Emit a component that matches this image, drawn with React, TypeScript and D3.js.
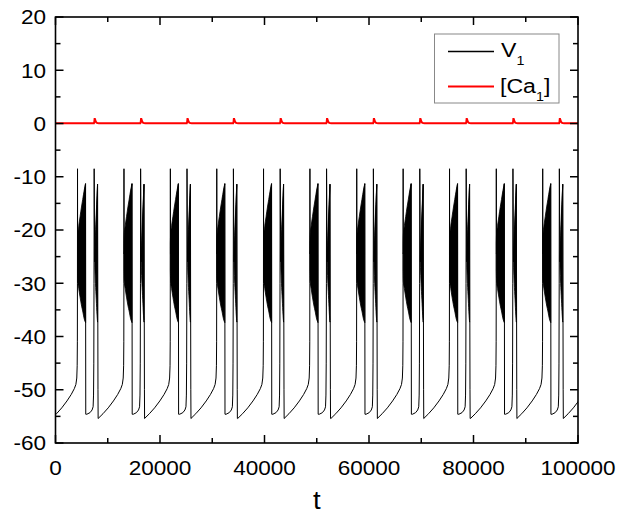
import React from "react";
import * as d3 from "d3";

// ---- data ----
const xTicks = [0, 20000, 40000, 60000, 80000, 100000];
const xMinorTicks = [10000, 30000, 50000, 70000, 90000];
const yTicks = [-60, -50, -40, -30, -20, -10, 0, 10, 20];
const yMinorTicks = [-55, -45, -35, -25, -15, -5, 5, 15];

// times (t) at which each burst starts (last one is beyond the visible range)
const burstOnsets = [4200, 13090, 21970, 30850, 39800, 48680, 57640, 66520, 75400, 84350, 93230, 102120];

// V1 trace of one cycle, [time offset from burst onset, V]
const voltageCycle: [number, number][] = [
  [-4930, -55.4], [-4000, -54.5], [-3000, -53.4], [-2000, -52.1], [-1200, -50.9],
  [-600, -49.8], [-300, -49.0], [-130, -47.8], [-50, -45.5], [-15, -41], [0, -30],
  [15, -8.5], [35, -24.5],
  [1540, -11.3], [1590, -54.6], [1800, -54.6], [2400, -54.3], [2800, -53.8],
  [3000, -53.2], [3080, -51], [3130, -45], [3170, -30], [3200, -8.5], [3300, -25.9],
  [3340, -26],
  [3850, -11.4], [3900, -37], [3930, -50], [3960, -55.4],
];

// dense oscillation envelopes: [time offset, upper V, lower V]
const burstEnvelope: [number, number, number][] = [
  [15, -22.5, -27.5], [60, -20.8, -29.6], [250, -19.2, -31], [500, -17.5, -32.6],
  [800, -15.5, -34.3], [1000, -14.3, -35.2], [1300, -12.5, -36.7], [1560, -11.3, -37.4],
];
const miniBurstEnvelope: [number, number, number][] = [
  [3330, -25, -27], [3450, -21, -30], [3600, -17, -33], [3750, -13.5, -36], [3850, -11.4, -37.3],
];

// [Ca1] trace: baseline and the pulse of one cycle
const calciumBase = 0.05;
const calciumPulse: [number, number][] = [
  [3150, 0.05], [3230, 0.3], [3300, 1.0], [3380, 0.75], [3500, 0.35],
  [3650, 0.15], [3850, 0.07], [4100, 0.05],
];

const W = 617;
const H = 514;
const L = 55.5, R = 578, T = 17, B = 443;
const SX = 1.1; // horizontal stretch of the lettering

export default function App() {
  const x = d3.scaleLinear().domain([0, 100000]).range([L, R]);
  const y = d3.scaleLinear().domain([-60, 20]).range([B, T]);

  const vPoints: [number, number][] = [];
  burstOnsets.forEach((o) => voltageCycle.forEach(([dt, v]) => vPoints.push([o + dt, v])));
  const line = d3.line<[number, number]>().x((d) => x(d[0])).y((d) => y(d[1]));

  const area = d3
    .area<[number, number, number]>()
    .x((d) => x(d[0]))
    .y0((d) => y(d[2]))
    .y1((d) => y(d[1]))
    .curve(d3.curveMonotoneX);

  const caPoints: [number, number][] = [[0, calciumBase]];
  burstOnsets.forEach((o) => calciumPulse.forEach(([dt, c]) => caPoints.push([o + dt, c])));
  const caFiltered = caPoints.filter((p) => p[0] <= 100000);
  caFiltered.push([100000, calciumBase]);

  const font = "'Liberation Sans', Arial, sans-serif";

  return (
    <svg width={W} height={H} style={{ position: "absolute", left: 0, top: 0, background: "#fff" }} fontFamily={font}>
      <defs>
        <clipPath id="plotClip">
          <rect x={L} y={T} width={R - L} height={B - T} />
        </clipPath>
      </defs>
      <rect x={0} y={0} width={W} height={H} fill="#fff" />
      <g clipPath="url(#plotClip)">
        <path d={line(vPoints) || ""} fill="none" stroke="#000" strokeWidth={1} />
        {burstOnsets.map((o, i) => (
          <g key={i}>
            <path
              d={area(burstEnvelope.map(([dt, u, l]) => [o + dt, u, l] as [number, number, number])) || ""}
              fill="#000"
              stroke="#000"
              strokeWidth={0.8}
            />
            <path
              d={area(miniBurstEnvelope.map(([dt, u, l]) => [o + dt, u, l] as [number, number, number])) || ""}
              fill="#000"
              stroke="#000"
              strokeWidth={0.8}
            />
          </g>
        ))}
        <path d={line(caFiltered) || ""} fill="none" stroke="#ff0000" strokeWidth={2} />
      </g>

      {/* frame */}
      <rect x={L} y={T} width={R - L} height={B - T} fill="none" stroke="#000" strokeWidth={1.6} />

      {/* ticks */}
      {xTicks.map((t) => (
        <g key={"xt" + t}>
          <line x1={x(t)} x2={x(t)} y1={B} y2={B - 8} stroke="#000" strokeWidth={1.5} />
          <line x1={x(t)} x2={x(t)} y1={T} y2={T + 8} stroke="#000" strokeWidth={1.5} />
          <text transform={`translate(${x(t)},475) scale(${SX},1)`} fontSize={20.5} textAnchor="middle" fill="#000">
            {t}
          </text>
        </g>
      ))}
      {xMinorTicks.map((t) => (
        <g key={"xm" + t}>
          <line x1={x(t)} x2={x(t)} y1={B} y2={B - 5} stroke="#000" strokeWidth={1.5} />
          <line x1={x(t)} x2={x(t)} y1={T} y2={T + 5} stroke="#000" strokeWidth={1.5} />
        </g>
      ))}
      {yTicks.map((t) => (
        <g key={"yt" + t}>
          <line x1={L} x2={L + 8} y1={y(t)} y2={y(t)} stroke="#000" strokeWidth={1.5} />
          <line x1={R} x2={R - 8} y1={y(t)} y2={y(t)} stroke="#000" strokeWidth={1.5} />
          <text transform={`translate(46,${y(t) + 7.3}) scale(${SX},1)`} fontSize={20.5} textAnchor="end" fill="#000">
            {t}
          </text>
        </g>
      ))}
      {yMinorTicks.map((t) => (
        <g key={"ym" + t}>
          <line x1={L} x2={L + 5} y1={y(t)} y2={y(t)} stroke="#000" strokeWidth={1.5} />
          <line x1={R} x2={R - 5} y1={y(t)} y2={y(t)} stroke="#000" strokeWidth={1.5} />
        </g>
      ))}

      {/* axis title */}
      <text transform={`translate(${(L + R) / 2},509) scale(${SX},1)`} fontSize={25} textAnchor="middle" fill="#000">
        t
      </text>

      {/* legend */}
      <rect x={434.5} y={34} width={124.5} height={69} fill="#fff" stroke="#888" strokeWidth={1} />
      <line x1={448} x2={494} y1={51.5} y2={51.5} stroke="#000" strokeWidth={1.6} />
      <text transform={`translate(501,57) scale(${SX},1)`} fontSize={21} fill="#000">
        V<tspan fontSize={13} dy={8}>1</tspan>
      </text>
      <line x1={448} x2={494} y1={86.5} y2={86.5} stroke="#ff0000" strokeWidth={2} />
      <text transform={`translate(500,93) scale(${SX},1)`} fontSize={21} fill="#000">
        [Ca<tspan fontSize={13} dy={8}>1</tspan>
        <tspan dy={-8}>]</tspan>
      </text>
    </svg>
  );
}
